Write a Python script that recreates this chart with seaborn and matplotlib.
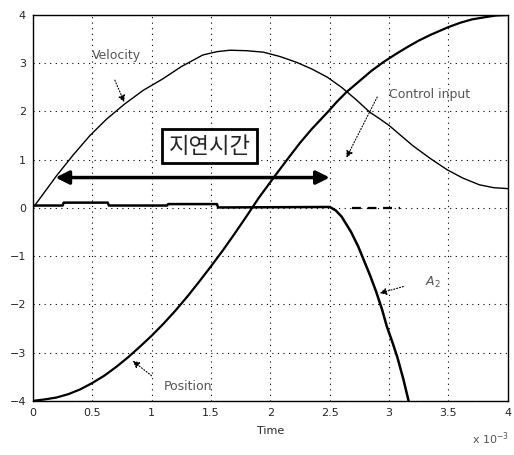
import numpy as np
import pandas as pd
import matplotlib
matplotlib.use("Agg")
import matplotlib.pyplot as plt
import seaborn as sns

# Time axis in units of 1e-3 s
t_pos = [0.0, 0.1, 0.2, 0.3, 0.4, 0.5, 0.6, 0.7, 0.8, 0.9, 1.0, 1.1, 1.2, 1.3, 1.4,
         1.5, 1.6, 1.7, 1.8, 1.9, 2.04, 2.15, 2.25, 2.35, 2.48, 2.56, 2.64, 2.75,
         2.85, 2.95, 3.05, 3.15, 3.25, 3.35, 3.5, 3.6, 3.7, 3.82, 3.9, 4.0]
position = [-4.0, -3.97, -3.93, -3.86, -3.76, -3.63, -3.48, -3.3, -3.1, -2.88, -2.65,
            -2.4, -2.13, -1.84, -1.53, -1.21, -0.88, -0.53, -0.17, 0.2, 0.67, 1.03,
            1.35, 1.64, 1.98, 2.2, 2.4, 2.63, 2.84, 3.02, 3.18, 3.33, 3.47, 3.59,
            3.75, 3.84, 3.91, 3.96, 3.99, 4.0]

t_vel = [0.0, 0.06, 0.2, 0.34, 0.48, 0.62, 0.77, 0.93, 1.09, 1.25, 1.43, 1.55, 1.66,
         1.8, 1.94, 2.08, 2.22, 2.35, 2.48, 2.6, 2.72, 2.84, 2.92, 3.0, 3.1, 3.2,
         3.35, 3.49, 3.62, 3.76, 3.88, 4.0]
velocity = [0.0, 0.2, 0.67, 1.1, 1.5, 1.84, 2.15, 2.44, 2.67, 2.93, 3.17, 3.24, 3.27,
            3.26, 3.23, 3.14, 3.02, 2.88, 2.71, 2.5, 2.25, 1.98, 1.85, 1.71, 1.5,
            1.29, 1.02, 0.79, 0.62, 0.48, 0.42, 0.4]

t_ctrl = [0.0, 0.25, 0.26, 0.63, 0.64, 1.13, 1.14, 1.55, 1.56, 2.5, 2.55, 2.6, 2.68,
          2.74, 2.79, 2.84, 2.89, 2.94, 2.98, 3.03, 3.07, 3.12, 3.17]
control = [0.05, 0.05, 0.11, 0.11, 0.05, 0.05, 0.08, 0.08, 0.01, 0.02, -0.05, -0.18,
           -0.5, -0.8, -1.1, -1.4, -1.73, -2.1, -2.45, -2.8, -3.1, -3.55, -4.06]

t_hold = [2.69, 3.09]
hold = [0.0, 0.0]

delay_start, delay_end, delay_level = 0.19, 2.5, 0.63

xticks = [0, 0.5, 1, 1.5, 2, 2.5, 3, 3.5, 4]
xtick_labels = ["0", "0.5", "1", "1.5", "2", "2.5", "3", "3.5", "4"]
yticks = [-4, -3, -2, -1, 0, 1, 2, 3, 4]

sns.set_style("white")
plt.rcParams["font.family"] = ["DejaVu Sans", "Noto Sans CJK KR"]

fig = plt.figure(figsize=(5.14, 4.55), dpi=100)
ax = fig.add_axes([0.064, 0.119, 0.924, 0.848])

sns.lineplot(x=t_vel, y=velocity, ax=ax, color="black", lw=1.0, sort=False)
sns.lineplot(x=t_pos, y=position, ax=ax, color="black", lw=1.6, sort=False)
sns.lineplot(x=t_ctrl, y=control, ax=ax, color="black", lw=1.8, sort=False)
ax.plot(t_hold, hold, color="black", lw=1.6, ls=(0, (4, 3)))

ax.set_xlim(0, 4)
ax.set_ylim(-4, 4)
ax.set_xticks(xticks)
ax.set_xticklabels(xtick_labels)
ax.set_yticks(yticks)
ax.grid(True, color="black", ls=(0, (1, 4)), lw=0.8)
for s in ax.spines.values():
    s.set_color("black")
    s.set_linewidth(1.0)
ax.tick_params(axis="both", labelsize=8, length=2, direction="in", pad=5)
ax.set_xlabel("Time", fontsize=8, labelpad=6)
fig.text(0.918, 0.025, r"x 10$^{-3}$", fontsize=8, color="#555555")

# Delay interval marker
ax.annotate("", xy=(delay_start, delay_level), xytext=(delay_end, delay_level),
            arrowprops=dict(arrowstyle="<|-|>", color="black", lw=2.5,
                            mutation_scale=20, shrinkA=0, shrinkB=0))
ax.text(1.49, 1.28, "지연시간", fontsize=16, ha="center", va="center",
        bbox=dict(boxstyle="square,pad=0.3", fc="white", ec="black", lw=2))

gray = "#555555"
arrow_kw = dict(arrowstyle="-|>", color="black", lw=0.8, ls=":", shrinkA=0, shrinkB=0)
ax.text(0.5, 3.17, "Velocity", fontsize=9, color=gray, ha="left", va="center")
ax.annotate("", xy=(0.77, 2.19), xytext=(0.69, 2.65), arrowprops=arrow_kw)
ax.text(3.0, 2.35, "Control input", fontsize=9, color=gray, ha="left", va="center")
ax.annotate("", xy=(2.64, 1.04), xytext=(2.9, 2.3), arrowprops=arrow_kw)
ax.text(1.1, -3.7, "Position", fontsize=9, color=gray, ha="left", va="center")
ax.annotate("", xy=(0.84, -3.17), xytext=(1.0, -3.48), arrowprops=arrow_kw)
ax.text(3.3, -1.55, r"$A_2$", fontsize=9, color=gray, ha="left", va="center")
ax.annotate("", xy=(2.92, -1.77), xytext=(3.12, -1.63), arrowprops=arrow_kw)

fig.savefig("out.png", dpi=100)
